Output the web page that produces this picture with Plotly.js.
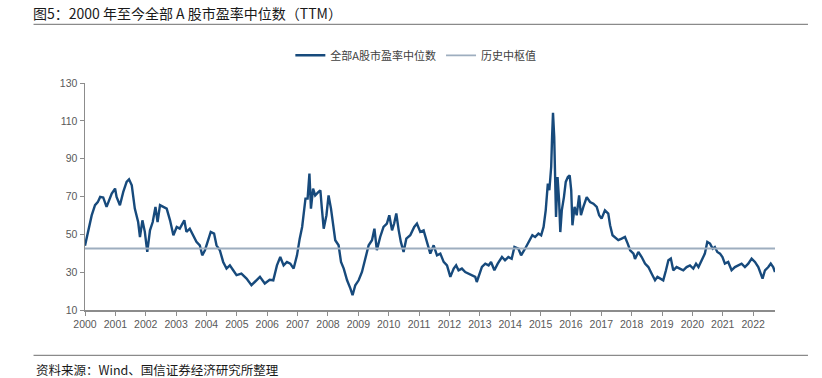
<!DOCTYPE html>
<html>
<head>
<meta charset="utf-8">
<script src="https://cdn.plot.ly/plotly-3.0.1.min.js"></script>
<style>
html,body{margin:0;padding:0;background:#fff;}
#chart{width:822px;height:378px;}
</style>
</head>
<body>
<div id="chart"></div>
<script>
// ---- data ----
var years = [
2000.00,2000.05,2000.11,2000.22,2000.33,2000.42,2000.50,2000.60,2000.71,2000.80,2000.88,2000.99,
2001.04,2001.15,2001.26,2001.37,2001.45,2001.54,2001.64,2001.75,2001.81,2001.89,2001.97,
2002.05,2002.14,2002.23,2002.32,2002.39,2002.47,2002.58,2002.69,2002.80,2002.91,
2003.02,2003.12,2003.27,2003.34,2003.45,2003.56,2003.67,2003.78,2003.86,2003.95,
2004.06,2004.14,2004.25,2004.33,2004.44,2004.55,2004.66,2004.77,2004.88,2004.99,
2005.15,2005.32,2005.48,2005.65,2005.76,2005.92,
2006.08,2006.20,2006.32,2006.43,2006.54,2006.65,2006.76,2006.87,2006.98,
2007.07,2007.15,2007.26,2007.33,2007.39,2007.44,2007.51,2007.58,2007.69,2007.75,2007.80,2007.86,2007.95,
2008.02,2008.10,2008.17,2008.24,2008.35,2008.43,2008.52,2008.63,2008.74,2008.81,2008.90,
2009.01,2009.12,2009.23,2009.34,2009.45,2009.53,2009.61,2009.72,2009.83,2009.94,
2010.02,2010.11,2010.18,2010.25,2010.33,2010.40,2010.49,2010.58,2010.71,2010.84,2010.93,
2011.04,2011.15,2011.26,2011.37,2011.48,2011.59,2011.70,2011.81,2011.92,
2012.03,2012.14,2012.22,2012.30,2012.41,2012.52,2012.63,2012.74,2012.85,2012.90,2012.98,
2013.07,2013.18,2013.29,2013.37,2013.48,2013.59,2013.73,2013.83,2013.94,
2014.05,2014.14,2014.27,2014.36,2014.49,2014.62,2014.73,2014.82,2014.93,
2015.02,2015.10,2015.17,2015.24,2015.29,2015.35,2015.38,2015.41,2015.45,2015.48,2015.51,2015.56,2015.61,2015.65,2015.70,2015.77,2015.83,2015.90,2015.96,
2016.01,2016.05,2016.12,2016.19,2016.27,2016.33,2016.41,2016.52,2016.63,2016.74,2016.85,2016.93,
2017.01,2017.12,2017.23,2017.29,2017.37,2017.45,2017.56,2017.67,2017.78,2017.87,2017.95,
2018.06,2018.11,2018.22,2018.33,2018.44,2018.55,2018.66,2018.77,2018.85,2018.94,
2019.04,2019.13,2019.21,2019.29,2019.37,2019.48,2019.59,2019.70,2019.81,2019.92,
2020.03,2020.12,2020.20,2020.31,2020.41,2020.49,2020.58,2020.67,2020.74,2020.82,2020.91,2020.99,
2021.07,2021.18,2021.29,2021.40,2021.51,2021.62,2021.73,2021.84,2021.95,
2022.06,2022.17,2022.25,2022.31,2022.39,2022.50,2022.58,2022.66,2022.72
];
var peMedian = [
44,48,53,60,65.4,67,69.8,69.5,64.5,68,71.5,74.2,
69.8,65.4,72.4,77.7,79.1,75.9,63.6,56.5,48.6,57.4,51.3,
40.7,52.1,56.5,64.5,56.5,65.4,64.5,63.6,57.4,49.5,
53.9,53,57.4,51.3,53,49.5,46,44.2,38.9,41.6,
47.7,51.3,50.4,44.2,41.6,35.4,31.9,33.6,31,28.4,
29.2,26.6,23.1,25.7,27.5,24,
26,25.7,33.6,38,33.6,35.4,34.5,31.9,38.9,
47.7,53.9,68.9,68.9,82.1,63.6,74.2,70.6,72.4,73.3,63.6,53,60.1,
70.6,63.6,56.5,46.9,44.2,35.4,31.9,25.7,21.3,17.8,23.1,
25.7,30.1,38,44.2,46.9,53,41.6,48.6,53.9,55.7,
60.1,52.1,55.7,61,52.1,46,40.7,47.7,49.5,53.9,55.7,
51.3,52.1,46,39.8,44.2,38.9,39.8,35.4,33.6,
27.5,31.9,33.6,31,31.9,30.1,29.2,28.4,27.5,24.8,29.2,
32.8,34.5,33.6,35.4,31,34.5,38,36.3,38,
37.1,43.3,42.4,38.9,42.4,46,49.5,48.6,50.4,
49.5,53.9,62.7,76.8,73.3,85.6,101.5,114.2,101.5,80.3,59.2,80.3,68,51.2,62.7,69.7,77.7,80.3,81.2,
73.3,54.8,64.5,60.1,70.6,60.1,64.5,69.7,67.1,66.2,64.5,60.1,
58.3,62.7,61,54.8,49.5,48.6,46.9,47.7,48.6,45.1,41.6,
39.8,37,40.7,38,34.5,32.7,29.2,25.7,27.5,26.6,
25.7,31,36.3,37.2,31,32.7,31.9,31,32.7,33.6,
31.9,34.5,32.7,36.3,39.8,46,45.1,42.4,43.3,40.7,39.8,38,
34.5,35.4,31,32.7,33.6,34.5,32.7,34.5,37.2,
35.4,32.7,29.2,26.6,31,32.7,34.5,32.7,30.1
];
var historicalCenter = 42.5;
var tickYears = [2000,2001,2002,2003,2004,2005,2006,2007,2008,2009,2010,2011,2012,2013,2014,2015,2016,2017,2018,2019,2020,2021,2022];
var tickLabels = tickYears.map(String);
var seriesNames = ['全部A股市盈率中位数', '历史中枢值'];
var titleText = '图5：2000 年至今全部 A 股市盈率中位数（TTM）';
var sourceText = '资料来源：Wind、国信证券经济研究所整理';

// ---- layout helpers (pixel geometry) ----
var W = 822, H = 378;
var plotL = 84.5, plotR = 775, plotT = 82.7, plotB = 309.7;
var pw = plotR - plotL, ph = plotB - plotT;
function px(x){ return (x - plotL) / pw; }
function py(y){ return (plotB - y) / ph; }

var cjk = '"Noto Sans CJK SC", "Noto Sans", sans-serif';

var traces = [
  {
    x: years, y: peMedian, type: 'scatter', mode: 'lines', name: seriesNames[0],
    line: {color: '#174a7c', width: 2.4}
  },
  {
    x: [years[0], years[years.length-1]], y: [historicalCenter, historicalCenter],
    type: 'scatter', mode: 'lines', name: seriesNames[1],
    line: {color: '#9eaebf', width: 1.8}
  }
];

var axisColor = '#8c8c8c';
var layout = {
  width: W, height: H,
  margin: {l: plotL, r: W - plotR, t: plotT, b: H - plotB, pad: 0},
  paper_bgcolor: '#fff', plot_bgcolor: '#fff',
  showlegend: true,
  legend: {
    orientation: 'h', x: px(290), xanchor: 'left', y: py(55), yanchor: 'middle',
    font: {family: cjk, size: 11, color: '#404040'}, bgcolor: 'rgba(0,0,0,0)',
    itemwidth: 30, tracegroupgap: 0
  },
  title: {
    text: titleText, x: 33 / W, xanchor: 'left', xref: 'container',
    y: 1 - 14 / H, yanchor: 'middle', yref: 'container',
    font: {family: cjk, size: 14, color: '#1a1a1a'}
  },
  xaxis: {
    type: 'linear', range: [2000, years[years.length-1]],
    tickvals: tickYears, ticktext: tickLabels,
    showline: true, linecolor: axisColor, linewidth: 1.5,
    ticks: 'outside', ticklen: 4, tickcolor: axisColor, tickwidth: 1,
    showgrid: false, zeroline: false,
    tickfont: {family: '"Liberation Sans", Arial, sans-serif', size: 10.5, color: '#595959'}
  },
  yaxis: {
    range: [10, 130], tick0: 10, dtick: 20,
    showline: true, linecolor: axisColor, linewidth: 1.5,
    ticks: 'outside', ticklen: 4, tickcolor: axisColor, tickwidth: 1,
    showgrid: false, zeroline: false,
    tickfont: {family: '"Liberation Sans", Arial, sans-serif', size: 10.5, color: '#595959'}
  },
  shapes: [
    {type: 'line', xref: 'paper', yref: 'paper', x0: px(33), x1: px(808), y0: py(24), y1: py(24),
     line: {color: '#8a8a8a', width: 1.2}},
    {type: 'line', xref: 'paper', yref: 'paper', x0: px(33), x1: px(808), y0: py(355), y1: py(355),
     line: {color: '#8a8a8a', width: 1.2}}
  ],
  annotations: [
    {text: sourceText, xref: 'paper', yref: 'paper', x: px(33), y: py(369),
     xanchor: 'left', yanchor: 'middle', showarrow: false,
     font: {family: cjk, size: 12.5, color: '#1a1a1a'}}
  ]
};

Plotly.newPlot('chart', traces, layout, {staticPlot: true, displayModeBar: false});
</script>
</body>
</html>
